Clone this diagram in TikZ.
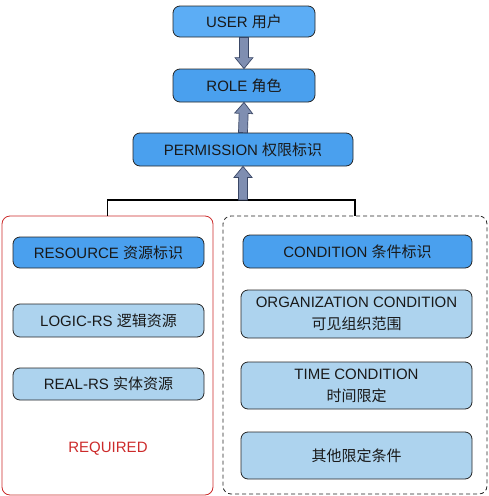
\documentclass[tikz,border=0pt]{standalone}
\usepackage{fontspec}
\setmainfont{Liberation Sans}
\newfontfamily\cjk{Noto Sans CJK SC}
\usepackage{tikz}
\usetikzlibrary{positioning, calc}

\definecolor{userblue}{HTML}{5CADF5}
\definecolor{darkblue}{HTML}{4AA0EE}
\definecolor{lightblue}{HTML}{ADD3EE}
\definecolor{slate}{HTML}{7F8EB1}
\definecolor{slateline}{HTML}{3A4766}
\definecolor{reqred}{HTML}{CC2A2A}

\newcommand{\fatarrow}[2]{%
  \coordinate (fa-h) at ($(#2)!11pt!(#1)$);
  \draw[fat] ($(#1)!4.5pt!90:(#2)$) -- ($(fa-h)!4.5pt!90:(#2)$) -- ($(fa-h)!9pt!90:(#2)$) -- (#2)
    -- ($(fa-h)!9pt!-90:(#2)$) -- ($(fa-h)!4.5pt!-90:(#2)$) -- ($(#1)!4.5pt!-90:(#2)$) -- cycle;}

\begin{document}
\begin{tikzpicture}[x=1pt,y=-1pt,node distance=64pt,on grid,
  box/.style={draw=black!85,line width=0.8pt,rounded corners=7pt,inner sep=0pt,
    align=center,text=black!90,font=\fontsize{15}{22}\selectfont},
  topbox/.style={box,fill=darkblue,minimum height=33pt},
  keybox/.style={box,fill=darkblue,minimum height=32pt},
  subbox/.style={box,fill=lightblue},
  fat/.style={fill=slate,draw=slateline,line width=0.7pt,line join=miter}]
  \useasboundingbox (0,0) rectangle (489,496);

  \node[topbox,fill=userblue,minimum width=142pt,minimum height=31pt] (user) at (244,21.5) {USER {\cjk 用户}};
  \node[topbox,minimum width=142pt] (role) [below=of user] {ROLE {\cjk 角色}};
  \node[topbox,minimum width=220pt] (perm) [below=of role, xshift=-1pt] {PERMISSION {\cjk 权限标识}};

  % required part
  \node[draw=reqred,line width=0.8pt,rounded corners=8pt,minimum width=211pt,minimum height=279pt] (reqbox) at (107.5,355.5) {};
  \node[keybox,minimum width=191pt,minimum height=31pt] (res) at (108.5,252.5) {RESOURCE {\cjk 资源标识}};
  \node[subbox,minimum width=191pt,minimum height=33pt] (logic) at (108.5,320.5) {LOGIC-RS {\cjk 逻辑资源}};
  \node[subbox,minimum width=191pt,minimum height=32pt] (real) at (108.5,384) {REAL-RS {\cjk 实体资源}};
  \node[text=reqred,font=\fontsize{15}{18}\selectfont] (required) at (108,449) {REQUIRED};

  % condition part
  \node[draw=black!85,line width=0.8pt,dash pattern=on 4pt off 3pt,rounded corners=8pt,minimum width=264pt,minimum height=278pt] (optbox) at (355,355) {};
  \node[keybox,minimum width=229pt,minimum height=33pt] (cond) at (357.5,251.5) {CONDITION {\cjk 条件标识}};
  \node[subbox,minimum width=231pt,minimum height=48pt] (org) at (356.5,314) {ORGANIZATION CONDITION\\{\cjk 可见组织范围}};
  \node[subbox,minimum width=231pt,minimum height=47pt] (time) at (356.5,385.5) {TIME CONDITION\\{\cjk 时间限定}};
  \node[subbox,minimum width=231pt,minimum height=47pt] (other) at (356.5,455.5) {{\cjk 其他限定条件}};

  \coordinate (fork) at (perm.south |- 0,200);
  \draw[line width=1.5pt] (reqbox.north) |- (fork) -| (optbox.north);

  \fatarrow{user.south}{role.north}
  \fatarrow{perm.north}{role.south}
  \fatarrow{fork}{perm.south}
\end{tikzpicture}
\end{document}
